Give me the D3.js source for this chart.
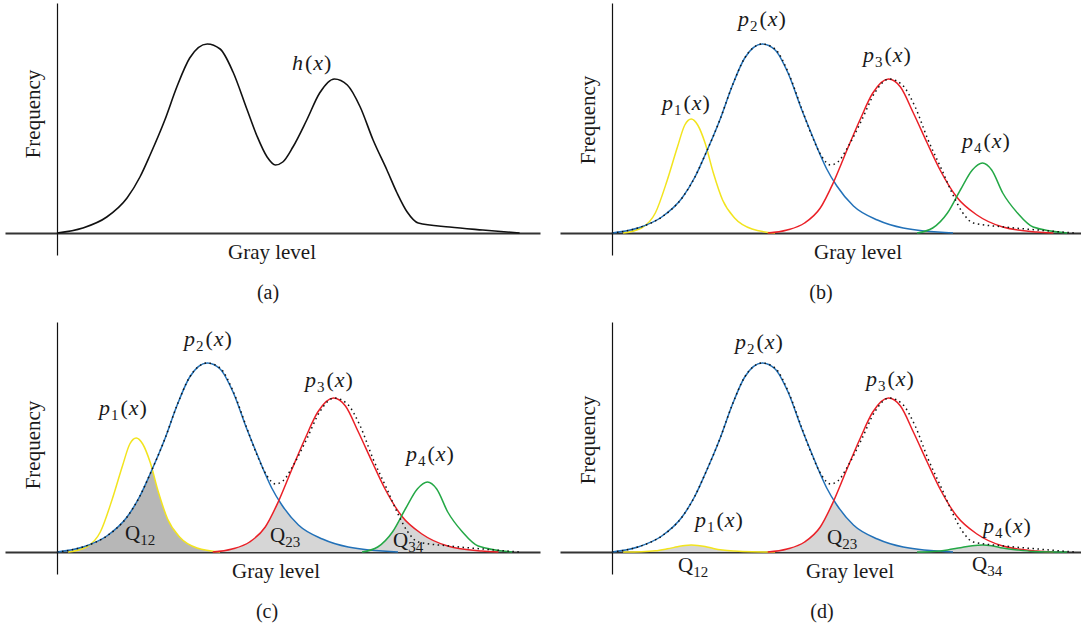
<!DOCTYPE html>
<html>
<head>
<meta charset="utf-8">
<script src="https://cdn.jsdelivr.net/npm/d3@7"></script>
<style>
  body { margin: 0; background: #fff; }
</style>
</head>
<body>
<script>
// gray level (0-255) against frequency (arbitrary units)

// h(x): the measured histogram
var hGray = [0, 14, 27, 38, 45, 50.5, 58.5, 65, 72, 81.5, 88.5, 95.5, 103, 108.5, 114, 118.5, 122.5, 128, 135.5, 142.5, 150.5, 157.5, 164.5, 171.5, 179, 184.5, 190, 196, 213, 231, 251];
var hFreq = [0, 2.5, 8, 17.5, 28, 39, 56.5, 73, 87.5, 94.5, 92, 80.5, 62, 48.5, 38, 34, 35.5, 43, 56.5, 70, 77, 74, 63, 46.5, 31.5, 20, 10.5, 5, 3, 1.5, 0];

// fitted components
var p1Gray = [6, 16, 23.5, 30, 35.5, 39.5, 43, 46.5, 50.5, 55, 60, 66.5, 76, 88.5];
var p1Freq = [0, 2.5, 10, 26.5, 43, 54, 57, 54, 45, 30, 16.5, 7.5, 2, 0];
var p1FreqLow = [0, 0.15, 0.6, 1.6, 2.6, 3.3, 3.5, 3.3, 2.8, 1.8, 1, 0.45, 0.1, 0];

var p2Gray = [0, 14, 27, 38, 45, 50.5, 58.5, 65, 72, 81.5, 88.5, 95.5, 103, 108.5, 113, 116.5, 122, 131, 144, 158, 185];
var p2Freq = [0, 2.5, 8, 17.5, 28, 39, 56.5, 73, 87.5, 94.5, 91.5, 80, 61.5, 49, 39, 32, 23.5, 13.5, 6.5, 2.5, 0];

var p3Gray = [84.5, 95, 104.5, 113, 120, 127.5, 134.5, 141.5, 150, 156.5, 163.5, 171, 178, 187, 198, 212, 230.5, 239.5];
var p3Freq = [0, 1.5, 5, 12.5, 25, 41.5, 56.5, 70, 77, 73, 60, 45, 31.5, 18, 9, 3, 0.5, 0];

var p4Gray = [165.5, 174, 182, 189, 195.5, 201, 206, 212, 220, 228.5, 247];
var p4Freq = [0, 2.5, 10, 21.5, 31.5, 35, 31.5, 20, 10, 3, 0];
var p4FreqLow = [0, 0.25, 1, 2.15, 3.15, 3.5, 3.15, 2, 1, 0.3, 0];

var colors = { p1: "#f2e41e", p2: "#2271b8", p3: "#ea2027", p4: "#24a846" };
var serif = "'Liberation Serif', 'Times New Roman', 'DejaVu Serif', serif";

function pts(gs, fs) {
  return gs.map(function(g, i) { return { g: g, f: fs[i] }; });
}

var h = pts(hGray, hFreq);
var p1 = pts(p1Gray, p1Freq), p1low = pts(p1Gray, p1FreqLow);
var p2 = pts(p2Gray, p2Freq);
var p3 = pts(p3Gray, p3Freq);
var p4 = pts(p4Gray, p4Freq), p4low = pts(p4Gray, p4FreqLow);

var svg = d3.select("body").append("svg")
    .attr("width", 1081)
    .attr("height", 631)
    .attr("font-family", serif);
svg.append("rect").attr("width", 1081).attr("height", 631).attr("fill", "#fff");

// one panel per sub-figure; ox/oy = where the two axes cross
var panels = [
  { key: "a", ox: 57, oy: 233, gray: 272, cap: 268 },
  { key: "b", ox: 612, oy: 233, gray: 858, cap: 821 },
  { key: "c", ox: 57, oy: 552, gray: 276, cap: 267 },
  { key: "d", ox: 612, oy: 552, gray: 850, cap: 822 }
];
var freqY = { a: 114, b: 120, c: 445, d: 440 };

panels.forEach(function(p) {
  var g = svg.append("g").attr("class", "panel-" + p.key);
  p.g = g;
  p.x = d3.scaleLinear().domain([0, 255]).range([p.ox, p.ox + 470]);
  p.y = d3.scaleLinear().domain([0, 100]).range([p.oy, p.oy - 200]);

  // axes: no ticks, only the lines
  var xa = p.x.copy().domain([-28, 262]).range([p.ox - 52, p.ox + 483]);
  var ya = p.y.copy().domain([-11, 115]).range([p.oy + 22, p.oy - 230]);
  g.append("g")
      .attr("transform", "translate(0," + p.oy + ")")
      .call(d3.axisBottom(xa).tickValues([]).tickSizeOuter(0))
      .select(".domain").attr("stroke", "#333").attr("stroke-width", 2);
  g.append("g")
      .attr("transform", "translate(" + p.ox + ",0)")
      .call(d3.axisLeft(ya).tickValues([]).tickSizeOuter(0))
      .select(".domain").attr("stroke", "#111").attr("stroke-width", 1.2);

  g.append("text")
      .attr("transform", "translate(" + (p.ox - 17) + "," + freqY[p.key] + ") rotate(-90)")
      .attr("text-anchor", "middle")
      .attr("font-family", serif).attr("font-size", 21).attr("fill", "#1a1a1a")
      .text("Frequency");
  g.append("text")
      .attr("x", p.gray).attr("y", p.oy + 26)
      .attr("text-anchor", "middle")
      .attr("font-family", serif).attr("font-size", 21).attr("fill", "#1a1a1a")
      .text("Gray level");
  g.append("text")
      .attr("x", p.cap).attr("y", p.oy + 66)
      .attr("text-anchor", "middle")
      .attr("font-family", serif).attr("font-size", 20).attr("fill", "#1a1a1a")
      .text("(" + p.key + ")");
});

function lineFor(p) {
  return d3.line().x(function(d) { return p.x(d.g); }).y(function(d) { return p.y(d.f); })
      .curve(d3.curveMonotoneX);
}
function areaFor(p) {
  return d3.area().x(function(d) { return p.x(d.g); })
      .y0(p.y(0)).y1(function(d) { return p.y(d.f); })
      .curve(d3.curveMonotoneX);
}

var defs = svg.append("defs");
// overlap of two components = area under one clipped by the area under the other
function overlap(p, a, b, fill, id) {
  defs.append("clipPath").attr("id", id)
    .append("path").attr("d", areaFor(p)(b));
  p.g.append("path")
      .attr("d", areaFor(p)(a))
      .attr("clip-path", "url(#" + id + ")")
      .attr("fill", fill);
}
function curve(p, data, color, width) {
  p.g.append("path")
      .attr("d", lineFor(p)(data))
      .attr("fill", "none")
      .attr("stroke", color)
      .attr("stroke-width", width || 1.5);
}
function dotted(p) {
  p.g.append("path")
      .attr("d", lineFor(p)(h))
      .attr("fill", "none")
      .attr("stroke", "#111")
      .attr("stroke-width", 1.5)
      .attr("stroke-dasharray", "1.5,3.5");
}

function plabel(p, x, y, name, sub) {
  var t = p.g.append("text").attr("x", x).attr("y", y)
      .attr("font-family", serif).attr("font-size", 22).attr("fill", "#1a1a1a");
  t.append("tspan").attr("font-style", "italic").text(name);
  if (sub) t.append("tspan").attr("dy", 5).attr("dx", 1).attr("font-size", 15).text(sub);
  t.append("tspan").attr("dy", sub ? -5 : 0).attr("dx", 2).text("(");
  t.append("tspan").attr("font-style", "italic").attr("dx", 1).text("x");
  t.append("tspan").attr("dx", 1).text(")");
}
function qlabel(p, x, y, sub) {
  var t = p.g.append("text").attr("x", x).attr("y", y)
      .attr("font-family", serif).attr("font-size", 21).attr("fill", "#1a1a1a");
  t.append("tspan").text("Q");
  t.append("tspan").attr("dy", 5).attr("font-size", 15).text(sub);
}

var A = panels[0], B = panels[1], C = panels[2], D = panels[3];

// (a)
curve(A, h, "#111", 1.6);
plabel(A, 292, 70, "h");

// (b)
curve(B, p1, colors.p1);
curve(B, p2, colors.p2);
curve(B, p3, colors.p3);
curve(B, p4, colors.p4);
dotted(B);
plabel(B, 662, 110, "p", "1");
plabel(B, 738, 26, "p", "2");
plabel(B, 863, 62, "p", "3");
plabel(B, 962, 148, "p", "4");

// (c)
overlap(C, p1, p2, "#b7b7b7", "c12");
overlap(C, p2, p3, "#d6d6d6", "c23");
overlap(C, p3, p4, "#d6d6d6", "c34");
curve(C, p1, colors.p1);
curve(C, p2, colors.p2);
curve(C, p3, colors.p3);
curve(C, p4, colors.p4);
dotted(C);
plabel(C, 99, 415, "p", "1");
plabel(C, 184, 346, "p", "2");
plabel(C, 305, 387, "p", "3");
plabel(C, 406, 461, "p", "4");
qlabel(C, 125, 540, "12");
qlabel(C, 270, 542, "23");
qlabel(C, 393, 547, "34");

// (d)
overlap(D, p1low, p2, "#d6d6d6", "d12");
overlap(D, p2, p3, "#d6d6d6", "d23");
overlap(D, p3, p4low, "#d6d6d6", "d34");
curve(D, p1low, colors.p1);
curve(D, p2, colors.p2);
curve(D, p3, colors.p3);
curve(D, p4low, colors.p4);
dotted(D);
plabel(D, 735, 349, "p", "2");
plabel(D, 866, 386, "p", "3");
plabel(D, 695, 527, "p", "1");
plabel(D, 983, 533, "p", "4");
qlabel(D, 678, 572, "12");
qlabel(D, 827, 544, "23");
qlabel(D, 972, 571, "34");
</script>
</body>
</html>
